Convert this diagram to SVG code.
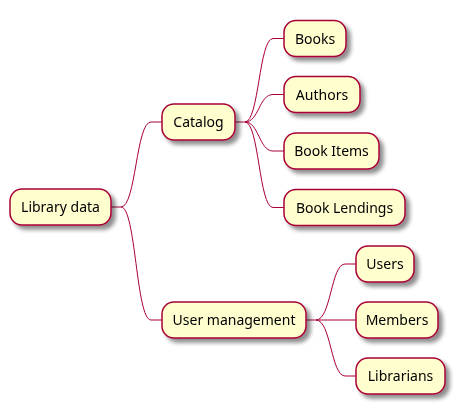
<svg xmlns="http://www.w3.org/2000/svg" width="462" height="413" viewBox="0 0 462 413">
<defs>
<filter id="sh" x="-20%" y="-30%" width="150%" height="180%">
<feGaussianBlur in="SourceAlpha" stdDeviation="2"/>
<feOffset dx="4" dy="4" result="b"/>
<feComponentTransfer><feFuncA type="linear" slope="0.45"/></feComponentTransfer>
<feMerge><feMergeNode/><feMergeNode in="SourceGraphic"/></feMerge>
</filter>
<style>
.n rect{fill:#FEFECE;stroke:#A80036;stroke-width:1.5}
.n text{font-family:"Noto Sans","DejaVu Sans",sans-serif;font-size:14px;fill:#000;text-anchor:middle}
#connectors path{fill:none;stroke:#A80036;stroke-width:1}
</style>
</defs>
<rect width="462" height="413" fill="#fff"/>
<g id="connectors">
<path d="M111,207 H121 C136,207 136,122 151,122 H162"/>
<path d="M121,207 C136,207 136,320 151,320 H162"/>
<path d="M235,122 H245 C259,122 259,38.5 273,38.5 H284"/>
<path d="M245,122 C259,122 259,94.5 273,94.5 H284"/>
<path d="M245,122 C259,122 259,151 273,151 H284"/>
<path d="M245,122 C259,122 259,207.5 273,207.5 H284"/>
<path d="M306,320 H316 C331,320 331,264 345,264 H356"/>
<path d="M316,320 H356"/>
<path d="M316,320 C331,320 331,376 345,376 H356"/>
</g>
<g id="library-data" class="n" filter="url(#sh)"><rect x="10" y="189" width="101" height="36" rx="12"/><text x="60.5" y="212">Library data</text></g>
<g id="catalog" class="n" filter="url(#sh)"><rect x="162" y="104" width="73" height="36" rx="12"/><text x="198.5" y="127">Catalog</text></g>
<g id="books" class="n" filter="url(#sh)"><rect x="284" y="20.5" width="62" height="36" rx="12"/><text x="315" y="43.5">Books</text></g>
<g id="authors" class="n" filter="url(#sh)"><rect x="284" y="76.5" width="76" height="36" rx="12"/><text x="322" y="99.5">Authors</text></g>
<g id="book-items" class="n" filter="url(#sh)"><rect x="284" y="133" width="95" height="36" rx="12"/><text x="331.5" y="156">Book Items</text></g>
<g id="book-lendings" class="n" filter="url(#sh)"><rect x="284" y="189.5" width="121" height="36" rx="12"/><text x="344.5" y="212.5">Book Lendings</text></g>
<g id="user-management" class="n" filter="url(#sh)"><rect x="162" y="302" width="144" height="36" rx="12"/><text x="234" y="325">User management</text></g>
<g id="users" class="n" filter="url(#sh)"><rect x="356" y="246" width="58" height="36" rx="12"/><text x="385" y="269">Users</text></g>
<g id="members" class="n" filter="url(#sh)"><rect x="356" y="302" width="82" height="36" rx="12"/><text x="397" y="325">Members</text></g>
<g id="librarians" class="n" filter="url(#sh)"><rect x="356" y="358" width="89" height="36" rx="12"/><text x="400.5" y="381">Librarians</text></g>
</svg>
